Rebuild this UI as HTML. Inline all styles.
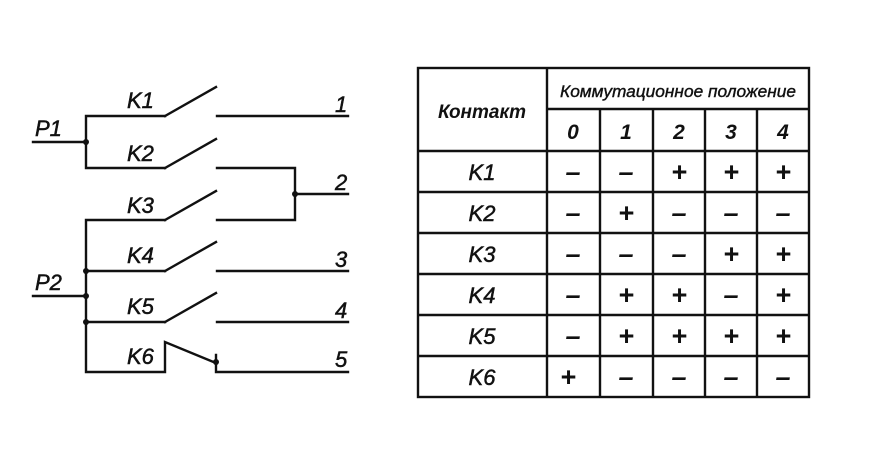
<!DOCTYPE html>
<html><head><meta charset="utf-8"><style>
html,body{margin:0;padding:0;background:#fff;}
svg{display:block;}
text{font-family:"Liberation Sans","DejaVu Sans",sans-serif;font-style:italic;fill:#111;}
</style></head><body>
<svg width="878" height="456" viewBox="0 0 878 456" xmlns="http://www.w3.org/2000/svg">
<g stroke="#111" stroke-width="2.4" fill="none" stroke-linecap="square">
<line x1="33" y1="142" x2="86" y2="142"/>
<polyline points="165,116 86,116 86,168 165,168"/>
<line x1="165" y1="116" x2="216" y2="87"/>
<line x1="165" y1="168" x2="216" y2="139"/>
<line x1="217" y1="116" x2="348" y2="116"/>
<polyline points="217,168 295,168 295,220 217,220"/>
<line x1="295" y1="194" x2="348" y2="194"/>
<line x1="33" y1="296" x2="86" y2="296"/>
<polyline points="165,220 86,220 86,372 165,372 165,342 216,363"/>
<line x1="86" y1="271" x2="165" y2="271"/>
<line x1="86" y1="322" x2="165" y2="322"/>
<line x1="165" y1="220" x2="216" y2="191"/>
<line x1="165" y1="271" x2="216" y2="242"/>
<line x1="165" y1="322" x2="216" y2="293"/>
<line x1="217" y1="271" x2="348" y2="271"/>
<line x1="217" y1="322" x2="348" y2="322"/>
<polyline points="216,355 216,372 348,372"/>
</g>
<g fill="#111">
<circle cx="86" cy="142" r="3"/><circle cx="86" cy="271" r="3"/><circle cx="86" cy="296" r="3"/><circle cx="86" cy="322" r="3"/><circle cx="295" cy="194" r="3"/><circle cx="216" cy="362" r="3"/>
</g>
<g font-size="22" stroke="#111" stroke-width="0.5">
<text x="35" y="136">P1</text>
<text x="35" y="290">P2</text>
<text x="127" y="108">K1</text>
<text x="127" y="161">K2</text>
<text x="127" y="213">K3</text>
<text x="127" y="263">K4</text>
<text x="127" y="314">K5</text>
<text x="127" y="364">K6</text>
<text x="335" y="112">1</text>
<text x="335" y="190">2</text>
<text x="335" y="267">3</text>
<text x="335" y="318">4</text>
<text x="335" y="367">5</text>
</g>
<g stroke="#111" stroke-width="2.4" fill="none">
<rect x="418" y="68" width="391" height="329"/>
<line x1="547" y1="68" x2="547" y2="397"/>
<line x1="547" y1="109" x2="809" y2="109"/>
<line x1="418" y1="151" x2="809" y2="151"/>
<line x1="418" y1="192" x2="809" y2="192"/>
<line x1="418" y1="233" x2="809" y2="233"/>
<line x1="418" y1="274" x2="809" y2="274"/>
<line x1="418" y1="315" x2="809" y2="315"/>
<line x1="418" y1="356" x2="809" y2="356"/>
<line x1="600" y1="109" x2="600" y2="397"/>
<line x1="653" y1="109" x2="653" y2="397"/>
<line x1="705" y1="109" x2="705" y2="397"/>
<line x1="757" y1="109" x2="757" y2="397"/>
</g>
<text x="482" y="118" font-size="19" font-weight="bold" text-anchor="middle">Контакт</text>
<text x="678" y="97" font-size="17" text-anchor="middle" stroke="#111" stroke-width="0.4" textLength="236" lengthAdjust="spacingAndGlyphs">Коммутационное положение</text>
<g font-size="21" font-weight="bold" text-anchor="middle">
<text x="573" y="139">0</text><text x="626" y="139">1</text><text x="679" y="139">2</text><text x="731" y="139">3</text><text x="783" y="139">4</text>
</g>
<g font-size="22" text-anchor="middle" stroke="#111" stroke-width="0.5">
<text x="482" y="180">K1</text><text x="482" y="221">K2</text><text x="482" y="262">K3</text><text x="482" y="303">K4</text><text x="482" y="344">K5</text><text x="482" y="385">K6</text>
</g>
<g font-size="27" font-weight="bold" text-anchor="middle" style="font-style:normal">
<text x="573" y="181">–</text><text x="626" y="181">–</text><text x="679" y="181">+</text><text x="731" y="181">+</text><text x="783" y="181">+</text>
<text x="573" y="222">–</text><text x="626" y="222">+</text><text x="679" y="222">–</text><text x="731" y="222">–</text><text x="783" y="222">–</text>
<text x="573" y="263">–</text><text x="626" y="263">–</text><text x="679" y="263">–</text><text x="731" y="263">+</text><text x="783" y="263">+</text>
<text x="573" y="304">–</text><text x="626" y="304">+</text><text x="679" y="304">+</text><text x="731" y="304">–</text><text x="783" y="304">+</text>
<text x="573" y="345">–</text><text x="626" y="345">+</text><text x="679" y="345">+</text><text x="731" y="345">+</text><text x="783" y="345">+</text>
<text x="568" y="386">+</text><text x="626" y="386">–</text><text x="679" y="386">–</text><text x="731" y="386">–</text><text x="783" y="386">–</text>
</g>
</svg>
</body></html>
